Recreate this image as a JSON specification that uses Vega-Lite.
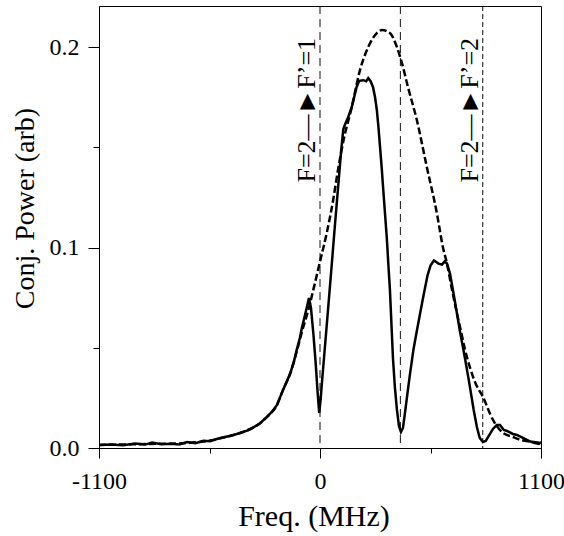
{
  "$schema": "https://vega.github.io/schema/vega-lite/v6.json",
  "width": 442,
  "height": 442,
  "autosize": "none",
  "padding": {"left": 99, "top": 6, "right": 23, "bottom": 88},
  "config": {
    "view": {"stroke": "black", "strokeWidth": 1},
    "axis": {
      "grid": false,
      "domainColor": "black",
      "tickColor": "black",
      "labelColor": "black",
      "titleColor": "black",
      "labelFont": "Liberation Serif",
      "titleFont": "Liberation Serif",
      "titleFontWeight": "normal",
      "labelFontSize": 24
    }
  },
  "datasets": {
    "solid": [
      {"f": -1100, "p": 0.0015}, {"f": -1040, "p": 0.0018}, {"f": -980, "p": 0.0014}, {"f": -920, "p": 0.0022},
      {"f": -870, "p": 0.0017}, {"f": -836, "p": 0.0027}, {"f": -790, "p": 0.0019}, {"f": -740, "p": 0.0021},
      {"f": -700, "p": 0.0018}, {"f": -662, "p": 0.003}, {"f": -620, "p": 0.0024}, {"f": -580, "p": 0.0036},
      {"f": -547, "p": 0.0034}, {"f": -510, "p": 0.0046}, {"f": -483, "p": 0.0052}, {"f": -440, "p": 0.0062},
      {"f": -398, "p": 0.0075}, {"f": -360, "p": 0.0088}, {"f": -333, "p": 0.0102}, {"f": -300, "p": 0.0122},
      {"f": -264, "p": 0.0155}, {"f": -240, "p": 0.018}, {"f": -214, "p": 0.0215}, {"f": -184, "p": 0.029},
      {"f": -166, "p": 0.033}, {"f": -149, "p": 0.037}, {"f": -130, "p": 0.043}, {"f": -116, "p": 0.049},
      {"f": -100, "p": 0.055}, {"f": -90, "p": 0.06}, {"f": -78, "p": 0.065}, {"f": -66, "p": 0.07},
      {"f": -55, "p": 0.0748}, {"f": -45, "p": 0.07}, {"f": -33, "p": 0.057}, {"f": -22, "p": 0.043},
      {"f": -12, "p": 0.028}, {"f": -4, "p": 0.0175}, {"f": 3, "p": 0.024}, {"f": 10, "p": 0.033},
      {"f": 25, "p": 0.051}, {"f": 40, "p": 0.069}, {"f": 58, "p": 0.091}, {"f": 75, "p": 0.112},
      {"f": 90, "p": 0.13}, {"f": 105, "p": 0.148}, {"f": 116, "p": 0.159}, {"f": 125, "p": 0.1615},
      {"f": 140, "p": 0.165}, {"f": 158, "p": 0.17}, {"f": 170, "p": 0.175}, {"f": 182, "p": 0.18},
      {"f": 195, "p": 0.1832}, {"f": 215, "p": 0.1835}, {"f": 230, "p": 0.183}, {"f": 240, "p": 0.1845},
      {"f": 252, "p": 0.183}, {"f": 264, "p": 0.18}, {"f": 274, "p": 0.175}, {"f": 283, "p": 0.1686},
      {"f": 291, "p": 0.16}, {"f": 299, "p": 0.15}, {"f": 307, "p": 0.14}, {"f": 314, "p": 0.13},
      {"f": 325, "p": 0.115}, {"f": 333, "p": 0.104}, {"f": 340, "p": 0.092}, {"f": 348, "p": 0.079},
      {"f": 356, "p": 0.061}, {"f": 363, "p": 0.045}, {"f": 373, "p": 0.03}, {"f": 383, "p": 0.019},
      {"f": 393, "p": 0.011}, {"f": 403, "p": 0.008}, {"f": 413, "p": 0.01}, {"f": 423, "p": 0.0175},
      {"f": 435, "p": 0.027}, {"f": 448, "p": 0.037}, {"f": 465, "p": 0.049}, {"f": 483, "p": 0.059},
      {"f": 498, "p": 0.067}, {"f": 513, "p": 0.075}, {"f": 535, "p": 0.086}, {"f": 550, "p": 0.091},
      {"f": 567, "p": 0.0935}, {"f": 590, "p": 0.092}, {"f": 607, "p": 0.0915}, {"f": 620, "p": 0.093},
      {"f": 632, "p": 0.092}, {"f": 647, "p": 0.087}, {"f": 665, "p": 0.077}, {"f": 682, "p": 0.067},
      {"f": 697, "p": 0.058}, {"f": 712, "p": 0.05}, {"f": 730, "p": 0.04}, {"f": 747, "p": 0.03},
      {"f": 765, "p": 0.019}, {"f": 781, "p": 0.0105}, {"f": 795, "p": 0.005}, {"f": 811, "p": 0.003},
      {"f": 825, "p": 0.0035}, {"f": 840, "p": 0.006}, {"f": 861, "p": 0.0095}, {"f": 880, "p": 0.0115},
      {"f": 896, "p": 0.0115}, {"f": 915, "p": 0.009}, {"f": 931, "p": 0.0085}, {"f": 960, "p": 0.007},
      {"f": 980, "p": 0.0065}, {"f": 1010, "p": 0.005}, {"f": 1040, "p": 0.0035}, {"f": 1070, "p": 0.0025},
      {"f": 1090, "p": 0.002}, {"f": 1100, "p": 0.003}
    ],
    "dashed": [
      {"f": -1100, "p": 0.0015}, {"f": -1000, "p": 0.0017}, {"f": -900, "p": 0.0019}, {"f": -800, "p": 0.0021},
      {"f": -700, "p": 0.0023}, {"f": -600, "p": 0.003}, {"f": -547, "p": 0.0037}, {"f": -483, "p": 0.0052},
      {"f": -440, "p": 0.0062}, {"f": -398, "p": 0.0075}, {"f": -333, "p": 0.0102}, {"f": -300, "p": 0.0122},
      {"f": -264, "p": 0.0155}, {"f": -214, "p": 0.0215}, {"f": -184, "p": 0.029}, {"f": -149, "p": 0.037},
      {"f": -116, "p": 0.048}, {"f": -90, "p": 0.058}, {"f": -66, "p": 0.066}, {"f": -50, "p": 0.072},
      {"f": -33, "p": 0.079}, {"f": 0, "p": 0.093}, {"f": 33, "p": 0.107}, {"f": 66, "p": 0.124},
      {"f": 90, "p": 0.139}, {"f": 116, "p": 0.153}, {"f": 158, "p": 0.17}, {"f": 199, "p": 0.1885},
      {"f": 240, "p": 0.2}, {"f": 283, "p": 0.207}, {"f": 309, "p": 0.2085}, {"f": 348, "p": 0.207},
      {"f": 383, "p": 0.2}, {"f": 408, "p": 0.192}, {"f": 438, "p": 0.18}, {"f": 482, "p": 0.1636},
      {"f": 532, "p": 0.14}, {"f": 582, "p": 0.117}, {"f": 612, "p": 0.1}, {"f": 632, "p": 0.092},
      {"f": 657, "p": 0.079}, {"f": 682, "p": 0.067}, {"f": 702, "p": 0.058}, {"f": 722, "p": 0.049},
      {"f": 747, "p": 0.04}, {"f": 771, "p": 0.033}, {"f": 811, "p": 0.0255}, {"f": 861, "p": 0.014},
      {"f": 911, "p": 0.0075}, {"f": 960, "p": 0.0055}, {"f": 1000, "p": 0.004}, {"f": 1050, "p": 0.0032},
      {"f": 1100, "p": 0.0025}
    ],
    "vlines": [
      {"f": 0, "style": "long"},
      {"f": 400, "style": "long"},
      {"f": 810, "style": "short"}
    ],
    "labels": [
      {"f": 0, "p": 0.1685, "text": "F=2—►F’=1"},
      {"f": 810, "p": 0.1685, "text": "F=2—►F’=2"}
    ]
  },
  "encoding": {
    "x": {
      "field": "f", "type": "quantitative",
      "scale": {"domain": [-1100, 1100], "nice": false, "zero": false},
      "axis": {
        "title": "Freq. (MHz)",
        "values": [-1100, -550, 0, 550, 1100],
        "labelExpr": "datum.value == -550 || datum.value == 550 ? '' : '' + datum.value",
        "tickSize": {"condition": {"test": "datum.value == -550 || datum.value == 550", "value": 5}, "value": 10},
        "labelPadding": 30,
        "labelBaseline": "alphabetic",
        "labelFlush": false,
        "labelOverlap": false,
        "titleFontSize": 30,
        "titleX": 214.5,
        "titleY": 77,
        "titleAlign": "center",
        "titleBaseline": "alphabetic"
      }
    },
    "y": {
      "field": "p", "type": "quantitative",
      "scale": {"domain": [0, 0.2205], "nice": false, "zero": false},
      "axis": {
        "title": "Conj. Power (arb)",
        "values": [0, 0.05, 0.1, 0.15, 0.2],
        "labelExpr": "datum.value == 0.05 || datum.value == 0.15 ? '' : format(datum.value, '.1f')",
        "tickSize": {"condition": {"test": "datum.value == 0.05 || datum.value == 0.15", "value": 6}, "value": 11},
        "labelPadding": 9,
        "labelFlush": false,
        "labelOverlap": false,
        "titleFontSize": 28,
        "titleX": -66,
        "titleY": 202,
        "titleAngle": 270,
        "titleAlign": "center",
        "titleBaseline": "alphabetic"
      }
    }
  },
  "layer": [
    {
      "data": {"name": "vlines"},
      "mark": {"type": "rule", "color": "#111", "strokeWidth": 1},
      "encoding": {
        "y": null,
        "strokeDash": {
          "field": "style", "type": "nominal",
          "scale": {"domain": ["long", "short"], "range": [[8, 5], [5, 3]]},
          "legend": null
        }
      }
    },
    {
      "data": {"name": "dashed"},
      "mark": {"type": "line", "color": "black", "strokeWidth": 2.5, "strokeDash": [7, 3], "interpolate": "monotone"}
    },
    {
      "data": {"name": "solid"},
      "mark": {"type": "line", "color": "black", "strokeWidth": 2.5, "interpolate": "linear"}
    },
    {
      "data": {"name": "labels"},
      "mark": {"type": "text", "font": "Liberation Serif", "fontSize": 26, "angle": 270, "align": "center", "baseline": "bottom", "color": "black"},
      "encoding": {"text": {"field": "text", "type": "nominal"}}
    }
  ]
}
